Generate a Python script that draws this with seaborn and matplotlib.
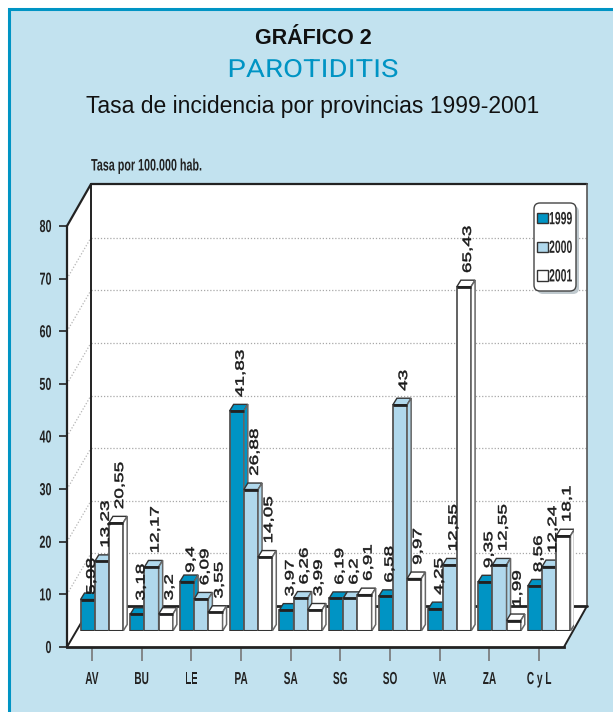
import pandas as pd
import matplotlib
matplotlib.use('Agg')
import matplotlib.pyplot as plt
from matplotlib.patches import Polygon, Rectangle, FancyBboxPatch
from matplotlib.patheffects import AbstractPathEffect
from matplotlib.transforms import Affine2D
import seaborn as sns

provincias = ['AV', 'BU', 'LE', 'PA', 'SA', 'SG', 'SO', 'VA', 'ZA', 'C y L']
anios = ['1999', '2000', '2001']
tasa_1999 = [5.98, 3.18, 9.4, 41.83, 3.97, 6.19, 6.58, 4.25, 9.35, 8.56]
tasa_2000 = [13.23, 12.17, 6.09, 26.88, 6.26, 6.2, 43, 12.55, 12.55, 12.24]
tasa_2001 = [20.55, 3.2, 3.55, 14.05, 3.99, 6.91, 9.97, 65.43, 1.99, 18.1]
colores = ['#0094C4', '#B0D8EC', '#FFFFFF']
y_ticks = [0, 10, 20, 30, 40, 50, 60, 70, 80]

W, H = 613, 712
SANS = ['Liberation Sans', 'DejaVu Sans']

sns.set_style('white')
plt.rcParams['font.family'] = SANS


class Stretch(AbstractPathEffect):
    # widens or narrows text glyphs, there is no condensed font here
    def __init__(self, sx=1.0, sy=1.0, anchor=0.5, lw=0.0):
        super().__init__()
        self.sx, self.sy, self.anchor, self.lw = sx, sy, anchor, lw

    def draw_path(self, renderer, gc, tpath, affine, rgbFace=None):
        ext = tpath.get_extents()
        cx = ext.x0 + self.anchor * ext.width
        cy = (ext.y0 + ext.y1) / 2
        pre = Affine2D().translate(-cx, -cy).scale(self.sx, self.sy).translate(cx, cy)
        gc.set_linewidth(self.lw)
        renderer.draw_path(gc, tpath, pre + affine, rgbFace)


def px_axes(fig, x0, x1, y_top, y_bottom, **kw):
    # axes placed by picture pixels
    return fig.add_axes([x0 / W, 1 - y_bottom / H, (x1 - x0) / W, (y_bottom - y_top) / H], **kw)


fig = plt.figure(figsize=(W / 100, H / 100), dpi=100, facecolor='white')

# panel and 3D box, in pixel coordinates
bg = fig.add_axes([0, 0, 1, 1])
bg.set_xlim(0, W)
bg.set_ylim(H, 0)
bg.axis('off')
bg.add_patch(Rectangle((9, 9), W, H, fc='#C2E2EF', ec='#0094C4', lw=2.2))
bg.add_patch(Polygon([(67, 226), (91, 184), (587, 184), (587, 606), (564, 647), (67, 647)], fc='white', ec='none'))

unit = 421 / 80
for v in y_ticks[1:-1]:
    yb = 606 - v * unit
    bg.plot([91, 587], [yb, yb], color='#A8A8A8', lw=0.9, ls=(0, (1, 1.5)))
    bg.plot([67, 91], [647 - v * unit, yb], color='#B5B5B5', lw=0.9, ls=(0, (1, 1.5)))

dark = '#222222'
bg.plot([67, 91, 587], [226, 184, 184], color=dark, lw=1.6)
bg.plot([91, 91], [184, 606], color=dark, lw=1.4)
bg.plot([91, 587], [606, 606], color=dark, lw=2)
bg.plot([587, 587], [184, 606], color='#555555', lw=1.2)
bg.plot([67, 91], [647, 606], color=dark, lw=1.4)
bg.plot([564, 587], [647, 606], color=dark, lw=1.4)

# legend box
bg.add_patch(FancyBboxPatch((537, 206), 42, 88, boxstyle='round,pad=0,rounding_size=6', fc='#BFC9CE', ec='none', zorder=5))
bg.add_patch(FancyBboxPatch((534, 203), 42, 88, boxstyle='round,pad=0,rounding_size=6', fc='white', ec='#444444', lw=1, zorder=6))

# titles
bg.text(313, 39, 'GRÁFICO 2', ha='center', va='center', fontsize=15.5, fontweight='bold', color='#111111')
bg.text(313, 70, 'PAROTIDITIS', ha='center', va='center', fontsize=18, color='#0094C4',
        family=['Roboto', 'Liberation Sans'], path_effects=[Stretch(1.17)])
bg.text(313, 107, 'Tasa de incidencia por provincias 1999-2001', ha='center', va='center', fontsize=16.5, color='#111111')
bg.text(91, 166, 'Tasa por 100.000 hab.', ha='left', va='center', fontsize=12, fontweight='bold', color='#222222',
        path_effects=[Stretch(0.645, anchor=0)])

# front plane: axis ticks and labels
front = px_axes(fig, 67, 564, 226, 647, facecolor='none')
front.set_xlim(-0.5, 9.5)
front.set_ylim(0, 80)
front.set_xticks(range(len(provincias)))
front.set_xticklabels(provincias, fontweight='bold', fontsize=12.5, color='#222222')
front.set_yticks(y_ticks)
front.set_yticklabels(y_ticks, fontweight='bold', fontsize=12.5, color='#222222')
for t in front.get_xticklabels():
    t.set_path_effects([Stretch(0.58)])
for t in front.get_yticklabels():
    t.set_path_effects([Stretch(0.62, anchor=1)])
front.tick_params(axis='x', length=10, width=1.2, color='#777777', pad=8, bottom=True)
front.tick_params(axis='y', length=6, width=1.2, color=dark, pad=5, left=True)
sns.despine(ax=front, top=True, right=True)
front.spines['left'].set_color(dark)
front.spines['left'].set_linewidth(1.6)
front.spines['bottom'].set_color(dark)
front.spines['bottom'].set_linewidth(2)

# bars stand a little deeper in the box
df = pd.DataFrame({
    'provincia': provincias * 3,
    'anio': [a for a in anios for _ in provincias],
    'tasa': tasa_1999 + tasa_2000 + tasa_2001,
})
ax = px_axes(fig, 77, 574, 210, 631, facecolor='none')
sns.barplot(data=df, x='provincia', y='tasa', hue='anio', palette=colores, saturation=1,
            width=0.858, gap=0, edgecolor='#555555', linewidth=1.3, ax=ax, zorder=3)
ax.set_xlim(-0.5, 9.5)
ax.set_ylim(0, 80)

px_x = 10 / 497
px_y = 80 / 421
dx, dy = 4 * px_x, 6.5 * px_y
nudges = {'5,98': -9, '9,4': -5}
for j, bars in enumerate(ax.containers):
    for bar in bars:
        x0, x1 = bar.get_x(), bar.get_x() + bar.get_width()
        h = bar.get_height()
        z = 3 + x0 + 0.01
        bar.set_zorder(z)
        fill = colores[j]
        ax.add_patch(Polygon([(x0, h), (x0 + dx, h + dy), (x1 + dx, h + dy), (x1, h)],
                             fc=fill, ec='#333333', lw=1, zorder=z))
        ax.add_patch(Polygon([(x1, 0), (x1 + dx, dy), (x1 + dx, h + dy), (x1, h)],
                             fc=fill, ec='#666666', lw=1.1, zorder=z))
        ax.plot([x0, x1], [h, h], color='#222222', lw=2, zorder=z + 0.001, solid_capstyle='butt')
        ax.plot([x0, x1], [0, 0], color='#333333', lw=1.5, zorder=z + 0.001, solid_capstyle='butt')
        txt = f'{h:g}'.replace('.', ',')
        ax.annotate(txt, xy=((x0 + x1) / 2, h), xytext=(4, 14 + nudges.get(txt, 0)),
                    textcoords='offset pixels', rotation=90, ha='center', va='bottom',
                    fontsize=8.8, color='#1A1A1A', zorder=40,
                    path_effects=[Stretch(1.55, anchor=0, lw=0.35)])

handles, labels = ax.get_legend_handles_labels()
leg = ax.legend(handles, labels, loc='upper left', bbox_to_anchor=(537 / W, 1 - 213 / H),
                bbox_transform=fig.transFigure, frameon=False, borderaxespad=0,
                borderpad=0, labelspacing=1.72, handlelength=1.06, handleheight=1.15,
                handletextpad=0.1, prop={'weight': 'bold', 'size': 7.5})
leg.set_title(None)
leg.set_zorder(50)
for h in leg.get_patches():
    h.set_edgecolor('#333333')
    h.set_linewidth(1)
for t in leg.get_texts():
    t.set_path_effects([Stretch(1, 1.7)])

ax.set_xlabel('')
ax.set_ylabel('')
ax.set_xticks([])
ax.set_yticks([])
sns.despine(ax=ax, left=True, bottom=True)

fig.savefig('out.png', dpi=100)
plt.close(fig)
